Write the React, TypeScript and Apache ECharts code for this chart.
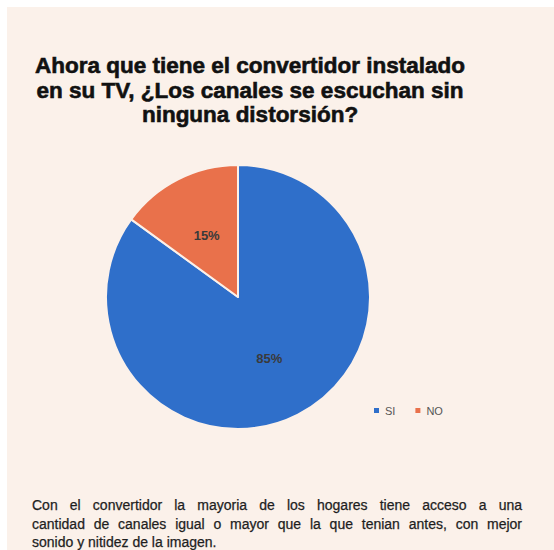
import React, { useEffect, useRef } from "react";
import * as echarts from "echarts";

const categories = ["SI", "NO"];
const values = [85, 15];
const sliceColors = ["#2f6fca", "#e9714b"];
const titleLines = [
  "Ahora que tiene el convertidor instalado",
  "en su TV, ¿Los canales se escuchan sin",
  "ninguna distorsión?",
];
const noteLines = [
  "Con el convertidor la mayoria de los hogares tiene acceso a una",
  "cantidad de canales igual o mayor que la que tenian antes, con mejor",
  "sonido y nitidez de la imagen.",
];

const NOTE_FONT = "14px 'Liberation Sans', Arial, sans-serif";

function measure(text: string, font: string): number {
  const c = document.createElement("canvas").getContext("2d");
  if (!c) return text.length * 6;
  c.font = font;
  return c.measureText(text).width;
}

function justifiedLine(line: string, y: number, x0: number, x1: number, justify: boolean) {
  const style = (t: string) => ({
    text: t,
    font: NOTE_FONT,
    fill: "#1e1e1e",
    stroke: "#1e1e1e",
    lineWidth: 0.25,
    textVerticalAlign: "alphabetic",
  });
  if (!justify) {
    return [{ type: "text", x: x0, y, style: style(line) }];
  }
  const words = line.split(" ");
  const widths = words.map((w) => measure(w, NOTE_FONT));
  const total = widths.reduce((a, b) => a + b, 0);
  const gap = (x1 - x0 - total) / (words.length - 1);
  let x = x0;
  return words.map((w, i) => {
    const el = { type: "text", x, y, style: style(w) };
    x += widths[i] + gap;
    return el;
  });
}

export default function App() {
  const ref = useRef<HTMLDivElement>(null);
  useEffect(() => {
    if (!ref.current) return;
    const chart = echarts.init(ref.current, null, { renderer: "svg" });
    const noteEls: any[] = [];
    noteLines.forEach((l, i) => {
      noteEls.push(...justifiedLine(l, 498 + i * 18.5, 32, 522, i < 2));
    });
    chart.setOption({
      animation: false,
      backgroundColor: "#ffffff",
      legend: {
        data: categories,
        left: 372,
        top: 405,
        padding: 0,
        itemWidth: 7,
        itemHeight: 7,
        itemGap: 18,
        icon: "rect",
        textStyle: { fontSize: 11, color: "#555555", fontFamily: "'Liberation Sans', Arial, sans-serif" },
      },
      graphic: [
        { type: "rect", z: -10, shape: { x: 7, y: 7, width: 547, height: 543 }, style: { fill: "#fbf1ea" } },
        ...titleLines.map((t, i) => ({
          type: "text",
          x: 250,
          y: 54 + i * 24.5,
          style: {
            text: t,
            font: "bold 22.5px 'Liberation Sans', Arial, sans-serif",
            fill: "#111111",
            stroke: "#111111",
            lineWidth: 0.6,
            textAlign: "center",
            textVerticalAlign: "alphabetic",
          },
        })),
        ...noteEls,
      ],
      series: [
        {
          type: "pie",
          center: [238, 297],
          radius: 132,
          startAngle: 90,
          clockwise: true,
          data: categories.map((c, i) => ({ name: c, value: values[i], itemStyle: { color: sliceColors[i] } })),
          itemStyle: { borderColor: "#fbf1ea", borderWidth: 2 },
          label: {
            show: true,
            position: "inside",
            formatter: "{d}%",
            fontSize: 13,
            fontWeight: "bold",
            color: "#3a3a3a",
            fontFamily: "'Liberation Sans', Arial, sans-serif",
          },
          labelLine: { show: false },
          emphasis: { disabled: true },
        },
      ],
    });
    return () => chart.dispose();
  }, []);
  return <div ref={ref} style={{ position: "absolute", left: 0, top: 0, width: 554, height: 550 }} />;
}
